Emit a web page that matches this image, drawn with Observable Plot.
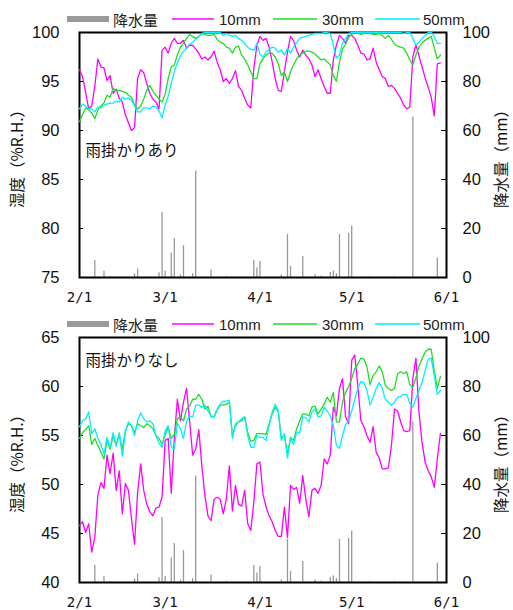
<!DOCTYPE html>
<html><head><meta charset="utf-8">
<script src="https://cdn.jsdelivr.net/npm/d3@7"></script>
<script src="https://cdn.jsdelivr.net/npm/@observablehq/plot@0.6"></script>
<style>
body{margin:0;background:#fff;}
#root{position:relative;width:513px;height:610px;overflow:hidden;font-family:"Liberation Sans",Arial,sans-serif;color:#111;}
.abs{position:absolute;left:0;}
</style>
</head><body><div id="root"></div>
<script>
// ---- data (day index 0 = 2/1) ----
const xTickDates = ["2019-02-01","2019-03-01","2019-04-01","2019-05-01","2019-06-01"];
const xTickLabels = ["2/1","3/1","4/1","5/1","6/1"];
const seriesNames = ["10mm","30mm","50mm"];
const precipName = "降水量";
const precipDays = [5,8,10,18,19,26,27,28,30,31,33,34,37,38,43,48,57,58,59,66,68,69,73,77,79,82,83,84,85,88,89,95,103,109,117];
const precipMM   = [6.9,2.6,0.3,1.5,3.5,1.9,26.5,2.6,10,15.9,1.0,13,1.5,43.5,3.1,0.4,6.9,3.9,6.5,1.0,17.6,4.5,8.6,1.0,0.5,2.0,2.7,1.6,17.6,18,21,0.3,0.3,65.5,8];

const withCover10 = [96.2,95.5,93.9,92.2,92.5,94.5,97.3,96.5,96.4,95.1,
 95.6,93.8,94.2,93.3,92.9,91.6,90.8,90.0,90.3,95.3,
 96.2,95.9,94.8,93.8,93.2,92.9,92.2,98.2,98.5,97.9,
 98.9,99.4,98.9,98.9,99.2,98.4,98.7,98.7,98.3,97.9,
 97.3,97.5,97.2,97.5,98.1,97.0,96.2,95.0,95.3,94.8,
 95.3,96.1,94.5,94.1,93.3,92.6,92.3,96.3,98.7,99.6,
 99.2,99.4,98.5,97.0,95.3,94.1,94.0,96.0,98.0,99.6,
 99.2,98.2,97.5,98.2,97.7,97.3,96.7,95.5,96.2,95.3,
 94.5,93.8,93.8,97.2,98.7,99.7,99.4,98.9,99.7,99.7,
 99.4,98.7,97.9,97.8,97.2,97.3,98.4,97.0,96.2,95.5,
 95.3,94.5,94.6,94.3,93.8,93.3,92.6,92.2,92.4,97.5,
 98.8,97.6,96.5,95.4,94.4,93.4,91.5,96.8,96.9];
const withCover30 = [90.9,91.6,92.3,92.1,91.8,91.2,92.1,92.5,92.8,93.6,
 93.4,94.3,94.1,94.1,94.0,93.9,93.6,93.4,92.6,92.2,
 92.5,93.2,94.1,94.6,94.0,93.6,93.2,92.9,93.7,95.3,
 96.5,96.7,97.7,98.5,98.9,99.4,99.8,99.6,99.4,99.6,
 99.9,99.8,99.7,99.7,99.8,99.3,99.0,98.9,98.5,98.4,
 97.9,98.5,98.6,97.7,97.3,96.7,96.0,95.3,95.3,96.8,
 97.3,97.7,97.9,97.9,97.5,96.8,95.6,96.0,95.0,96.0,
 96.7,97.3,97.7,97.9,98.1,98.1,98.0,97.8,97.5,97.2,
 97.3,97.0,96.7,95.6,95.0,97.0,98.3,98.8,99.5,99.8,
 100,99.9,99.8,99.9,100,99.9,99.8,99.8,99.9,99.7,
 99.4,99.7,99.3,98.8,98.6,98.5,98.4,97.9,97.2,96.7,
 97.7,98.5,98.9,99.2,99.4,99.6,98.4,97.3,97.7];
const withCover50 = [92.2,92.7,92.5,92.2,92.2,91.9,92.4,92.3,92.6,92.7,
 92.8,92.8,93.0,92.9,93.4,93.2,93.3,93.1,92.5,91.9,
 91.9,92.3,92.3,92.2,92.5,92.4,92.0,91.3,92.6,93.5,
 94.8,96.0,96.9,97.6,98.1,98.4,98.8,99.0,99.3,99.6,
 99.9,100,100,100,100,100,100,99.7,99.9,99.7,
 99.6,99.7,99.4,99.2,98.9,98.5,98.3,98.2,98.9,97.8,
 97.5,98.0,98.3,98.5,98.4,98.0,98.2,97.7,98.4,97.9,
 98.5,99.0,99.4,99.5,99.6,99.7,99.8,99.9,99.9,99.9,
 100,100,99.9,98.7,97.4,97.7,98.9,99.4,99.9,100,
 100,100,100,100,100,100,100,100,100,100,
 100,100,100,100,100,100,99.9,100,100,99.4,
 98.7,99.0,99.4,99.7,100,100,99.6,98.9,98.9];
const noCover10 = [45.8,46.2,45.1,46.0,43.1,44.6,48.9,50.2,49.6,53.0,
 51.1,53.2,49.4,51.4,47.0,50.1,49.4,46.5,43.9,49.2,
 52.1,49.4,48.0,47.2,46.8,47.6,47.7,48.7,54.5,54.7,
 49.1,54.7,58.7,56.5,58.4,59.8,56.5,53.0,53.6,55.6,
 51.9,48.9,46.8,46.3,48.5,48.7,48.5,47.0,48.5,51.9,
 47.3,49.9,48.0,47.8,49.4,46.0,45.3,48.2,52.1,52.3,
 49.0,47.7,46.8,46.2,45.3,44.7,44.7,47.7,44.6,49.9,
 49.5,49.7,48.1,50.9,48.5,46.7,49.4,49.6,49.1,49.9,
 52.6,52.1,53.0,57.9,57.0,59.8,60.8,56.9,56.2,62.7,
 63.2,60.1,56.5,55.9,55.0,54.3,55.9,53.3,52.7,51.6,
 51.6,51.7,54.0,57.7,57.5,56.4,55.5,55.4,55.5,60.8,
 62.9,57.4,54.3,52.3,51.4,50.8,49.7,52.6,55.2];
const noCover30 = [54.7,55.3,55.6,56.0,54.1,54.7,54.0,53.3,52.6,54.5,
 53.6,55.0,54.0,55.1,53.6,55.5,56.2,56.0,55.3,56.2,
 56.0,55.8,56.2,56.0,55.7,55.0,54.7,54.1,55.1,55.8,
 54.7,55.1,56.7,56.9,56.5,57.7,58.0,58.7,58.7,59.2,
 58.7,57.7,58.0,56.9,56.9,57.6,58.1,58.1,58.2,58.4,
 55.0,56.0,56.4,56.5,56.9,55.3,54.4,54.5,55.2,55.2,
 55.2,55.1,56.2,57.2,57.9,57.4,54.7,55.0,53.1,54.8,
 54.5,55.7,56.5,57.2,57.2,57.0,57.9,58.0,57.2,57.7,
 58.2,58.9,58.4,59.4,56.4,56.4,58.4,59.4,60.0,60.8,
 61.8,62.3,62.9,62.8,62.0,60.2,61.1,61.5,62.1,61.5,
 60.1,59.8,59.6,59.8,61.3,61.5,61.3,61.5,60.2,59.9,
 60.9,62.1,62.8,63.5,63.8,63.8,61.6,59.8,61.0];
const noCover50 = [55.9,56.5,56.7,57.4,55.2,55.7,54.7,54.1,53.1,54.8,
 53.8,55.3,53.9,55.3,52.9,55.3,56.4,56.0,55.0,56.5,
 57.3,56.7,56.4,56.5,56.2,55.0,54.2,53.8,55.5,56.0,
 53.8,53.6,56.2,55.7,54.7,56.4,57.0,56.9,58.1,58.1,
 57.9,58.1,57.5,57.0,56.9,57.7,58.2,58.5,58.5,58.6,
 54.7,56.2,56.4,56.7,56.9,55.0,53.8,53.8,55.0,54.8,
 54.8,54.5,56.0,57.4,58.2,57.5,54.5,55.2,52.7,54.8,
 54.1,55.3,55.3,56.9,56.8,56.4,57.4,57.7,56.9,57.0,
 57.9,57.5,57.0,56.0,54.0,53.7,55.0,56.1,56.5,57.5,
 58.7,59.8,60.5,60.4,59.6,58.1,58.9,59.8,60.4,59.8,
 58.7,58.4,58.1,58.4,58.9,59.0,59.2,59.2,58.3,57.9,
 58.8,59.6,60.4,61.6,62.8,62.9,61.1,59.2,59.6];

const topYTicks = [75,80,85,90,95,100];
const botYTicks = [40,45,50,55,60,65];
const rightTicks = [0,20,40,60,80,100];
const panelTitles = ["雨掛かりあり","雨掛かりなし"];
const yTitle = "湿度（%R.H.）";
const rTitle = "降水量（mm）";

// ---- styles ----
const colors = ["#ff00ff","#22dd22","#00f0ff"];
const barColor = "#9a9a9a";
const W=513,H=305,ML=79,MR=67,MT=32,MB=28;
const DAY = 864e5;
const dayDate = i => new Date(Date.UTC(2019,1,1+i));
const xStart = new Date(xTickDates[0]+"T00:00Z");
const xEnd = new Date(xTickDates[xTickDates.length-1]+"T00:00Z");
const xLabelMap = new Map(xTickDates.map((d,i)=>[+new Date(d+"T00:00Z"), xTickLabels[i]]));
const precip = precipDays.map((d,i)=>({date:dayDate(d), mm:precipMM[i]}));
const JP = "'Noto Sans CJK JP','Noto Sans',sans-serif";
const LAT = "'Liberation Sans',Arial,sans-serif";
const NS = "http://www.w3.org/2000/svg";

const root = document.getElementById("root");

function legend(cy){
  const svg = document.createElementNS(NS,"svg");
  svg.setAttribute("width",W); svg.setAttribute("height",20);
  svg.style.cssText=`position:absolute;left:0;top:${cy-10}px;overflow:visible;`;
  const items = [
    {bar:true,color:barColor,x0:67,x1:109,label:precipName,tx:113,font:JP},
    {color:colors[0],x0:172,x1:214,label:seriesNames[0],tx:219,font:LAT},
    {color:colors[1],x0:273,x1:317,label:seriesNames[1],tx:322,font:LAT},
    {color:colors[2],x0:375,x1:420,label:seriesNames[2],tx:423,font:LAT}
  ];
  for(const it of items){
    const ln=document.createElementNS(NS,"line");
    ln.setAttribute("x1",it.x0); ln.setAttribute("x2",it.x1);
    ln.setAttribute("y1",10); ln.setAttribute("y2",10);
    ln.setAttribute("stroke",it.color);
    ln.setAttribute("stroke-width",it.bar?6:1.3);
    svg.appendChild(ln);
    const t=document.createElementNS(NS,"text");
    t.setAttribute("x",it.tx); t.setAttribute("y",10);
    t.setAttribute("dominant-baseline","central");
    t.setAttribute("font-size",15);
    t.setAttribute("font-family",it.font);
    t.setAttribute("fill","#222");
    t.textContent=it.label;
    svg.appendChild(t);
  }
  root.appendChild(svg);
}

function panel(top, series, yDomain, yTicks, title, titleDy){
  const wrap=document.createElement("div");
  wrap.className="abs";
  wrap.style.cssText+=`top:${top}px;width:${W}px;height:${H}px;`;
  const common = {width:W,height:H,marginLeft:ML,marginRight:MR,marginTop:MT,marginBottom:MB,
    style:{fontFamily:LAT,fontSize:"16.5px",background:"transparent",overflow:"visible",color:"#111"},
    x:{type:"utc",domain:[xStart,xEnd],axis:null}};
  const pA = Plot.plot({...common,
    y:{domain:[0,100],axis:null},
    marks:[
      Plot.ruleX(precip,{x:"date",y1:0,y2:"mm",stroke:barColor,strokeWidth:1.3}),
      Plot.ruleY(rightTicks,{y:d=>d,x1:()=>new Date(+xEnd-1.6*DAY),x2:()=>xEnd,stroke:"#000",strokeWidth:1}),
      Plot.axisY({anchor:"right",ticks:rightTicks,tickSize:0,tickPadding:16,fontSize:16.5,fill:"#111",label:null}),
      Plot.text([rTitle],{text:d=>d,frameAnchor:"right",dx:55.5,rotate:-90,textAnchor:"middle",fontFamily:JP,fontSize:15.5,fill:"#111"})
    ]});
  const rows = [];
  series.forEach((vals,s)=>vals.forEach((v,i)=>rows.push({s,date:dayDate(i),v})));
  const pB = Plot.plot({...common,
    y:{domain:yDomain,axis:null},
    marks:[
      Plot.frame({stroke:"#000",strokeWidth:2}),
      Plot.ruleY(yTicks,{y:d=>d,x1:()=>xStart,x2:()=>new Date(+xStart+1.3*DAY),stroke:"#000",strokeWidth:1}),
      Plot.axisY({ticks:yTicks,tickSize:0,tickPadding:20,fontSize:16.5,fill:"#111",label:null}),
      Plot.axisX({ticks:xTickDates.map(d=>new Date(d+"T00:00Z")),tickFormat:d=>xLabelMap.get(+d),tickSize:0,tickPadding:15,fontFamily:"'DejaVu Sans Mono',monospace",fontSize:14,fill:"#111",label:null}),
      ...series.map((vals,s)=>Plot.line(rows.filter(r=>r.s===s),{x:"date",y:"v",stroke:colors[s],strokeWidth:1.3})),
      Plot.text([title],{text:d=>d,frameAnchor:"top-left",dx:6,dy:titleDy,textAnchor:"start",fontFamily:JP,fontSize:15.5,fill:"#111"}),
      Plot.text([yTitle],{text:d=>d,frameAnchor:"left",dx:-61,rotate:-90,textAnchor:"middle",fontFamily:JP,fontSize:15.5,fill:"#111"})
    ]});
  for(const p of [pA,pB]){p.style.position="absolute";p.style.left="0";p.style.top="0";wrap.appendChild(p);}
  root.appendChild(wrap);
}

panel(0,[withCover10,withCover30,withCover50],[75,100],topYTicks,panelTitles[0],112);
panel(305,[noCover10,noCover30,noCover50],[40,65],botYTicks,panelTitles[1],17);
legend(19);
legend(324);
</script>
</body></html>
